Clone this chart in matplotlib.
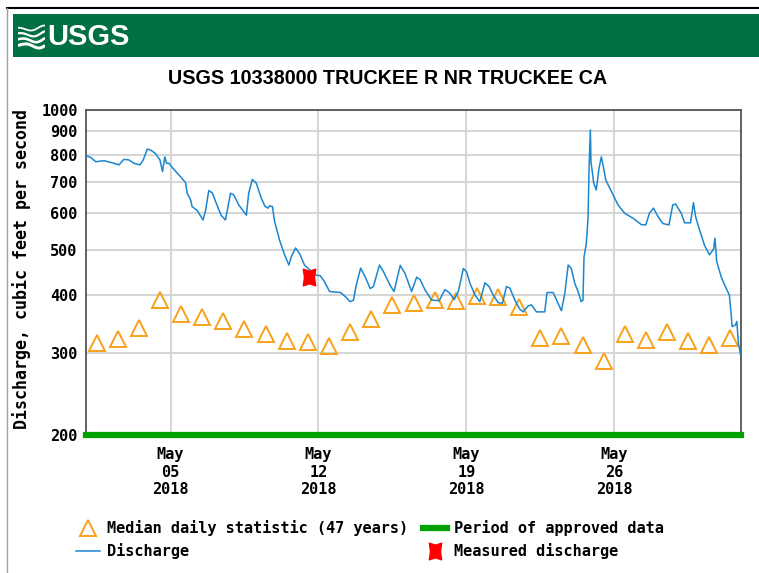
import numpy as np
import pandas as pd
import matplotlib
matplotlib.use('Agg')
import matplotlib.pyplot as plt
import matplotlib.dates as mdates
from matplotlib.lines import Line2D
from matplotlib.patches import Rectangle
from matplotlib.path import Path

# discharge, days since 2018-05-01 00:00 and cfs
q_days = [0.00, 0.22, 0.46, 0.85, 1.24, 1.56, 1.79, 2.03, 2.27, 2.55, 2.71, 2.90,
          3.06, 3.29, 3.50, 3.62, 3.73, 3.81, 3.93, 4.16, 4.47, 4.71, 4.79, 4.95,
          5.02, 5.26, 5.54, 5.65, 5.81, 5.97, 6.20, 6.39, 6.60, 6.84, 6.99, 7.23,
          7.59, 7.70, 7.87, 8.06, 8.30, 8.46, 8.61, 8.69, 8.82, 8.93, 9.16, 9.40,
          9.60, 9.72, 9.92, 10.11, 10.34, 10.85, 11.09, 11.29, 11.53, 12.05, 12.27,
          12.50, 12.66, 12.79, 13.00, 13.21, 13.45, 13.60, 13.89, 14.08, 14.39,
          14.58, 14.87, 15.10, 15.41, 15.65, 15.81, 16.05, 16.36, 16.72, 16.99,
          17.23, 17.42, 17.62, 17.86, 18.01, 18.17, 18.41, 18.64, 18.88, 19.08,
          19.27, 19.51, 19.71, 19.90, 20.06, 20.30, 20.53, 20.69, 20.93, 21.08,
          21.32, 21.71, 21.82, 22.11, 22.34, 22.50, 22.66, 22.82, 22.97, 23.13,
          23.29, 23.44, 23.52, 23.57, 23.68, 23.76, 23.81, 23.87, 23.90, 24.03,
          24.15, 24.28, 24.39, 24.47, 24.60, 24.86, 25.18, 25.49, 25.89, 26.28,
          26.49, 26.67, 26.86, 27.07, 27.30, 27.59, 27.77, 27.90, 28.17, 28.33,
          28.61, 28.75, 28.85, 29.04, 29.27, 29.51, 29.70, 29.77, 29.85, 30.06,
          30.26, 30.45, 30.53, 30.58, 30.74, 30.80, 30.88, 30.97]
q_vals = [797, 791, 774, 778, 770, 762, 783, 781, 768, 762, 781, 824,
          820, 806, 781, 737, 793, 768, 768, 745, 719, 698, 662, 641,
          620, 608, 580, 605, 671, 664, 625, 594, 580, 662, 657, 625,
          594, 662, 709, 696, 646, 622, 615, 622, 620, 575, 525, 488,
          464, 484, 505, 491, 464, 442, 440, 427, 407, 405, 397,
          387, 390, 420, 457, 438, 413, 417, 464, 449, 420,
          407, 463, 445, 407, 437, 432, 410, 390, 389, 411,
          403, 391, 407, 456, 449, 424, 400, 387, 425, 417,
          400, 385, 384, 417, 414, 390, 373, 368, 379, 381,
          368, 368, 405, 405, 384, 370, 403, 464, 456, 424,
          407, 387, 390, 483, 516, 585, 755, 906, 774, 696,
          673, 749, 793, 761, 707, 669, 625, 600, 585, 567,
          566, 600, 615, 590, 570, 566, 625, 628, 600, 572,
          572, 632, 590, 552, 512, 488, 502, 530, 472, 438,
          417, 400, 366, 342, 345, 351, 315, 299]

# median daily statistic (47 years), May 1 .. May 31
median_vals = [315, 321, 340, 390, 365, 358, 352, 338, 330, 318, 317, 311, 333, 356,
               381, 385, 390, 389, 398, 396, 377, 323, 327, 312, 289, 330, 320, 333,
               318, 312, 323]

meas_time = '2018-05-11 13:40'
meas_val = 437

approved = ['2018-05-01', '2018-06-01']
date_ticks = ['2018-05-05', '2018-05-12', '2018-05-19', '2018-05-26']
y_ticks = [200, 300, 400, 500, 600, 700, 800, 900, 1000]

W, H = 759, 573
mono = 'DejaVu Sans Mono'

t0 = pd.Timestamp('2018-05-01')
q_t = t0 + pd.to_timedelta(q_days, unit='D')
med_t = pd.date_range('2018-05-01 12:00', periods=len(median_vals), freq='D')

fig = plt.figure(figsize=(W / 100, H / 100), dpi=100)

# header
fig.add_artist(Line2D([7 / W, 1], [1 - 8 / H, 1 - 8 / H], color='black', lw=1.5))
fig.add_artist(Line2D([7 / W, 7 / W], [0, 1 - 8 / H], color='#a0a0a0', lw=1.0))
fig.add_artist(Rectangle((13 / W, 1 - 57 / H), 1 - 13 / W, 43 / H,
                         transform=fig.transFigure, color='#006f41', lw=0, zorder=-1))
fig.text(47 / W, 1 - 37 / H, 'USGS', color='white', fontsize=21, fontweight='bold',
         family='Liberation Sans', ha='left', va='center')
lax = fig.add_axes([18 / W, 1 - 51 / H, 27 / W, 28 / H])
lax.set_zorder(5)
lax.set_axis_off()
s = np.linspace(0, 1, 60)
for k in range(4):
    lax.plot(s, 0.2 + 0.2 * k + 0.08 * np.sin(2 * np.pi * (s + 0.1 * k)) * (0.4 + s),
             color='white', lw=2.2 - 0.3 * k, solid_capstyle='butt')
lax.set_xlim(0, 1)
lax.set_ylim(0, 1)

fig.text(388 / W, 1 - 78 / H, 'USGS 10338000 TRUCKEE R NR TRUCKEE CA', ha='center',
         va='center', fontsize=14.2, fontweight='bold', family='Liberation Sans')

ax = fig.add_axes([86 / W, 1 - 435 / H, 655 / W, 325 / H])
ax.set_yscale('log')
ax.set_ylim(200, 1000)
ax.set_xlim(pd.Timestamp(approved[0]), pd.Timestamp(approved[1]))

ax.grid(True, color='#d5d5d5', lw=1.4)
ax.set_axisbelow(True)

green, = ax.plot(pd.to_datetime(approved), [200, 200], color='#00a000', lw=4.5,
                 solid_capstyle='projecting', clip_on=False, zorder=3)
tri, = ax.plot(med_t, median_vals, ls='none', marker='^', ms=11, mfc='none',
               mec='#f9a11b', mew=1.4, zorder=4)
line, = ax.plot(q_t, q_vals, color='#1a86d0', lw=1.1, zorder=5)

verts = [(-0.37, 0.5), (0, 0.38), (0.37, 0.5), (0.3, 0), (0.37, -0.5), (0, -0.38),
         (-0.37, -0.5), (-0.3, 0), (-0.37, 0.5)]
bowtie = Path(verts, [Path.MOVETO] + [Path.LINETO] * 7 + [Path.CLOSEPOLY])
meas, = ax.plot([pd.Timestamp(meas_time)], [meas_val], ls='none', marker=bowtie, ms=12,
                color='#ff0000', mec='#ff0000', zorder=6)

ax.set_yticks(y_ticks)
ax.set_yticklabels([str(v) for v in y_ticks])
ax.yaxis.set_minor_locator(matplotlib.ticker.NullLocator())
ax.set_xticks(pd.to_datetime(date_ticks))
ax.xaxis.set_major_formatter(mdates.DateFormatter('%b\n%d\n%Y'))
ax.tick_params(length=0, labelsize=11)
ax.tick_params(axis='y', pad=6)
ax.tick_params(axis='x', pad=9)
for lab in ax.get_xticklabels() + ax.get_yticklabels():
    lab.set_family(mono)
    lab.set_fontweight('bold')
for sp in ax.spines.values():
    sp.set_color('#555555')
    sp.set_linewidth(1.3)

fig.text(22 / W, 1 - 269 / H, 'Discharge, cubic feet per second', rotation=90,
         ha='center', va='center', fontsize=12, fontweight='bold', family=mono)

fig.legend([tri, line, green, meas],
           ['Median daily statistic (47 years)', 'Discharge',
            'Period of approved data', 'Measured discharge'],
           ncol=2, loc='upper left', bbox_to_anchor=(76 / W, 1 - 520 / H),
           frameon=False, borderpad=0, borderaxespad=0, handlelength=1.6,
           handletextpad=0.45, columnspacing=0.95, labelspacing=0.45,
           prop={'family': mono, 'weight': 'bold', 'size': 11})

fig.savefig('out.png', dpi=100)
